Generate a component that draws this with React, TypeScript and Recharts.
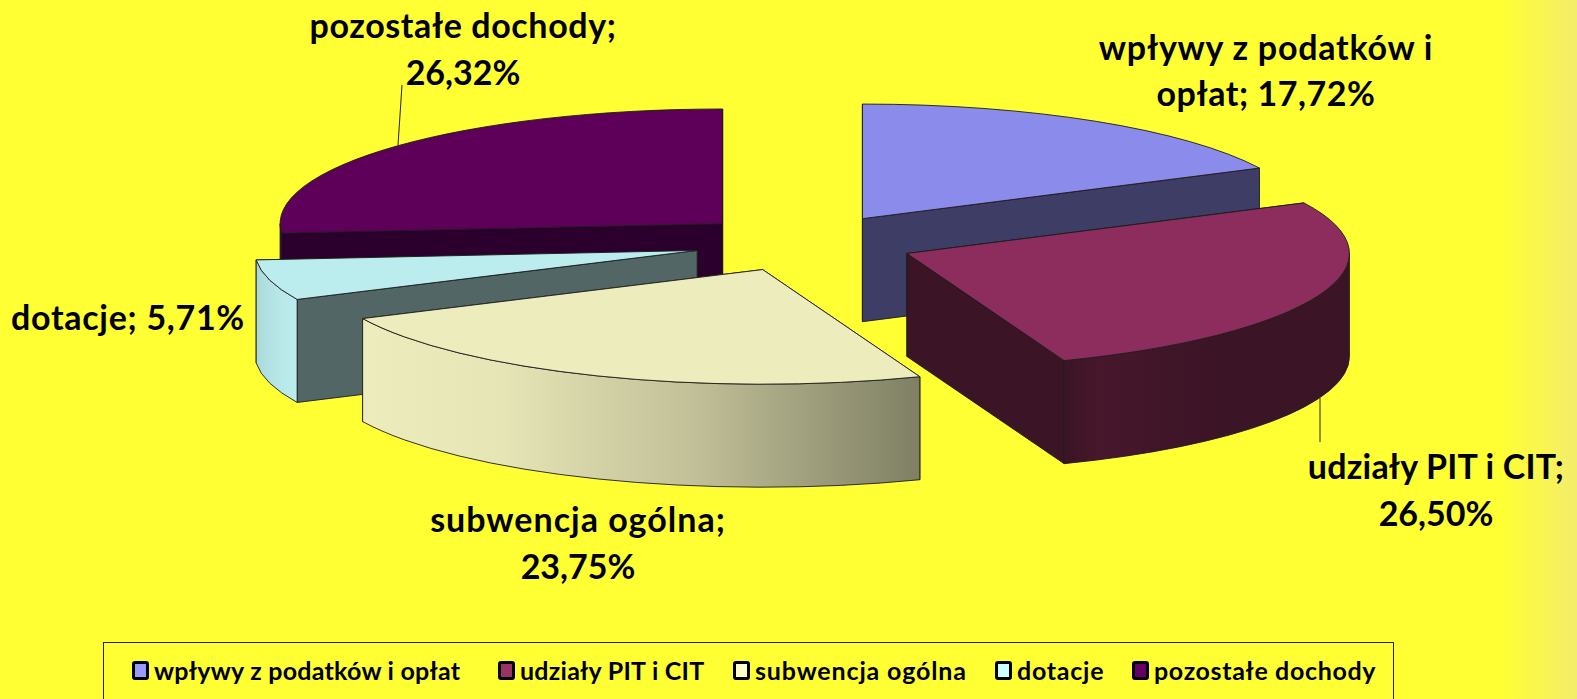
import React from 'react';
import { PieChart, Pie, Legend } from 'recharts';

const categories = ['wpływy z podatków i opłat', 'udziały PIT i CIT', 'subwencja ogólna', 'dotacje', 'pozostałe dochody'];
const shares = [17.72, 26.5, 23.75, 5.71, 26.32];

// back to front, the pie slices overlap each other
const drawOrder = ['pozostałe dochody', 'wpływy z podatków i opłat', 'dotacje', 'subwencja ogólna', 'udziały PIT i CIT'];

const data = categories.map((name, i) => ({ name, value: shares[i] }));

const FONT = 'Lato, sans-serif';
const YELLOW = '#ffff33';
const SQUASH = 0.259;
const DEPTH = 103;
const EXPLODE = 0.25;

const sliceStyles: Record<string, any> = {
  'wpływy z podatków i opłat': { top: '#8b8bec', side: '#3d3d66', wall: [[0, '#3d3d66'], [1, '#3d3d66']], swatch: '#9999ff', legendLeft: 29, legendTrack: 0.25 },
  'udziały PIT i CIT': { top: '#8d2d5d', side: '#3b1426', wall: [[0, '#3b1426'], [0.12, '#47172c'], [0.55, '#3b1426'], [1, '#3b1426']], swatch: '#993366', legendLeft: 395, legendTrack: 0.25 },
  'subwencja ogólna': { top: '#edecbc', side: '#7f7f64', wall: [[0, '#edecbc'], [0.25, '#e6e5b6'], [0.6, '#c0bf97'], [1, '#7f7f64']], swatch: '#ffffcc', legendLeft: 630, legendTrack: 0.85 },
  dotacje: { top: '#bcedee', side: '#536666', wall: [[0, '#a9dadb'], [0.5, '#b7e6e7'], [1, '#bcedee']], swatch: '#ccffff', legendLeft: 892, legendTrack: 0.75 },
  'pozostałe dochody': { top: '#5e005a', side: '#2c002c', wall: [[0, '#2c002c'], [1, '#2c002c']], swatch: '#660066', legendLeft: 1029, legendTrack: 0.65 },
};

const labelSpots: Record<string, any> = {
  'wpływy z podatków i opłat': { x: 1266, y: 46, firstLine: 4, track: [0.75, 0.55] },
  'udziały PIT i CIT': { x: 1436, y: 465.5, firstLine: 4, track: [0.2, 0], leader: [1320, 398, 1320, 442] },
  'subwencja ogólna': { x: 578, y: 518.5, firstLine: 2, track: [1, 0] },
  dotacje: { x: 128, y: 316, firstLine: 2, track: [0.7, 0] },
  'pozostałe dochody': { x: 463, y: 24.5, firstLine: 2, track: [0.6, 0], leader: [398, 145, 402, 85] },
};

const SliceShape = (only: string) => (props: any) => {
  if (props.name !== only) return null;
  const { cx, cy, outerRadius: rx, startAngle, endAngle } = props;
  const ry = rx * SQUASH;
  const style = sliceStyles[only];
  const rad = (a: number) => (a * Math.PI) / 180;
  const mid = rad((startAngle + endAngle) / 2);
  const ax = cx + EXPLODE * rx * Math.cos(mid);
  const ay = cy - EXPLODE * ry * Math.sin(mid);
  const at = (a: number) => [ax + rx * Math.cos(rad(a)), ay - ry * Math.sin(rad(a))];
  const [sx, sy] = at(startAngle);
  const [ex, ey] = at(endAngle);
  const line = { stroke: '#1c1c1c', strokeWidth: 0.9, strokeLinejoin: 'round' as const };

  const rims = [[sx, sy], [ex, ey]].sort((p, q) => p[1] - q[1]);
  const hi = Math.min(startAngle, 0);
  const lo = Math.max(endAngle, -180);
  const [hx, hy] = at(hi);
  const [lx, ly] = at(lo);
  const gid = `wall-${categories.indexOf(only)}`;

  return (
    <g>
      <defs>
        <linearGradient id={gid} x1="0" y1="0" x2="1" y2="0">
          {style.wall.map(([o, c]: [number, string]) => (
            <stop key={o} offset={o} stopColor={c} />
          ))}
        </linearGradient>
      </defs>
      {rims.map(([px, py], i) => (
        <path
          key={i}
          d={`M${ax},${ay} L${px},${py} L${px},${py + DEPTH} L${ax},${ay + DEPTH} Z`}
          fill={style.side}
          {...line}
        />
      ))}
      {hi > lo && (
        <path
          d={`M${hx},${hy} A${rx},${ry} 0 0 1 ${lx},${ly} L${lx},${ly + DEPTH} A${rx},${ry} 0 0 0 ${hx},${hy + DEPTH} Z`}
          fill={`url(#${gid})`}
          {...line}
        />
      )}
      <path d={`M${ax},${ay} L${sx},${sy} A${rx},${ry} 0 0 1 ${ex},${ey} Z`} fill={style.top} {...line} />
    </g>
  );
};

const SliceLabel = (only: string) => (props: any) => {
  if (props.name !== only) return null;
  const spot = labelSpots[only];
  const pct = props.value.toFixed(2).replace('.', ',') + '%';
  const words = `${only}; ${pct}`.split(' ');
  const first = words.slice(0, spot.firstLine).join(' ');
  const second = words.slice(spot.firstLine).join(' ');
  const textProps = {
    x: spot.x,
    textAnchor: 'middle' as const,
    dominantBaseline: 'central' as const,
    fontFamily: FONT,
    fontWeight: 700,
    fontSize: 34,
    fill: '#000',
  };
  return (
    <g>
      {spot.leader && (
        <line x1={spot.leader[0]} y1={spot.leader[1]} x2={spot.leader[2]} y2={spot.leader[3]} stroke="#222" strokeWidth={1} />
      )}
      <text {...textProps} y={spot.y} letterSpacing={spot.track[0]}>
        {first}
      </text>
      {second && (
        <text {...textProps} y={spot.y + 46.5} letterSpacing={spot.track[1]}>
          {second}
        </text>
      )}
    </g>
  );
};

const LegendBox = () => (
  <div
    style={{
      position: 'relative',
      boxSizing: 'border-box',
      width: 1291,
      height: 62,
      border: '1px solid #222',
      background: YELLOW,
      fontFamily: FONT,
      fontWeight: 700,
      fontSize: 25,
      color: '#000',
    }}
  >
    {categories.map((name) => (
      <div
        key={name}
        style={{
          position: 'absolute',
          left: sliceStyles[name].legendLeft - 1,
          top: 12,
          display: 'flex',
          alignItems: 'center',
          gap: 5,
          whiteSpace: 'nowrap',
          letterSpacing: sliceStyles[name].legendTrack,
        }}
      >
        <span
          style={{
            boxSizing: 'border-box',
            width: 17,
            height: 19,
            border: '3px solid #000',
            borderRadius: 3,
            background: sliceStyles[name].swatch,
          }}
        />
        <span>{name}</span>
      </div>
    ))}
  </div>
);

export default function App() {
  return (
    <div
      style={{
        position: 'absolute',
        left: 0,
        top: 0,
        width: 1577,
        height: 699,
        overflow: 'hidden',
        background: `linear-gradient(to right, ${YELLOW} 95.2%, #f3ec6c 100%)`,
      }}
    >
      <PieChart width={1577} height={699} margin={{ top: 0, right: 0, bottom: 0, left: 0 }}>
        {drawOrder.map((name) => (
          <Pie
            key={name}
            data={data}
            dataKey="value"
            nameKey="name"
            cx={804}
            cy={243}
            outerRadius={442.5}
            startAngle={90}
            endAngle={-270}
            stroke="none"
            isAnimationActive={false}
            shape={SliceShape(name)}
            label={SliceLabel(name)}
            labelLine={false}
          />
        ))}
        <Legend content={<LegendBox />} wrapperStyle={{ left: 103, top: 642, width: 1291 }} />
      </PieChart>
    </div>
  );
}
